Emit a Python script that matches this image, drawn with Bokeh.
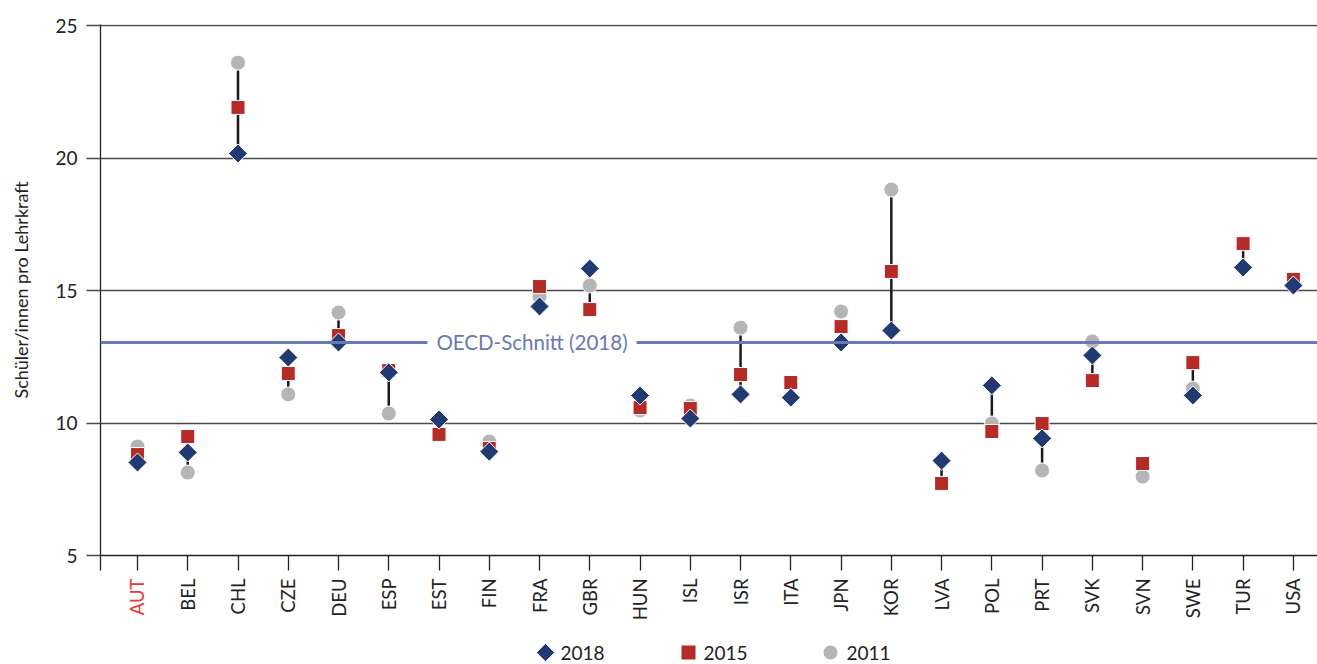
import numpy as np
from bokeh.plotting import figure
from bokeh.layouts import column
from bokeh.models import Range1d, FixedTicker, Label, Span, ColumnDataSource
from bokeh.core.properties import value
from bokeh.embed import file_html
from bokeh.resources import INLINE

countries = ["AUT", "BEL", "CHL", "CZE", "DEU", "ESP", "EST", "FIN", "FRA", "GBR",
             "HUN", "ISL", "ISR", "ITA", "JPN", "KOR", "LVA", "POL", "PRT", "SVK",
             "SVN", "SWE", "TUR", "USA"]
nan = float("nan")
v2018 = [8.51, 8.89, 20.17, 12.47, 13.04, 11.91, 10.13, 8.92, 14.40, 15.83,
         11.04, 10.17, 11.08, 10.96, 13.04, 13.49, 8.58, 11.42, 9.42, 12.55,
         nan, 11.04, 15.87, 15.19]
v2015 = [8.81, 9.49, 21.91, 11.87, 13.30, 11.98, 9.57, 9.04, 15.15, 14.28,
         10.58, 10.55, 11.83, 11.53, 13.64, 15.72, 7.72, 9.68, 9.98, 11.60,
         8.47, 12.28, 16.77, 15.42]
v2011 = [9.11, 8.13, 23.60, 11.08, 14.17, 10.36, nan, 9.30, 14.77, 15.19,
         10.47, 10.66, 13.60, nan, 14.21, 18.81, nan, 9.98, 8.21, 13.08,
         7.98, 11.30, nan, nan]
oecd_2018 = 13.04
y_ticks = [5, 10, 15, 20, 25]
series_labels = ["2018", "2015", "2011"]
highlight = "AUT"

FONT = "Lato"
NAVY = "#213a72"
RED = "#b52b27"
GREY = "#b5b5b5"
OECD_COL = "#6b78b6"
TXT = "#222222"
HL_COL = "#e8392f"

idx = list(range(len(countries)))
arr = np.array([v2018, v2015, v2011], dtype=float)
lo = np.nanmin(arr, axis=0)
hi = np.nanmax(arr, axis=0)

x_start, x_end = -0.736, 23.48
W = 1317

p = figure(width=W, height=573, output_backend="svg", toolbar_location=None,
           x_range=Range1d(x_start, x_end), y_range=Range1d(5, 25.04),
           min_border_left=100, min_border_right=0, min_border_top=24,
           min_border_bottom=18)
p.outline_line_color = None

# grid
p.xgrid.grid_line_color = None
p.ygrid.grid_line_color = "#4a4a4a"
p.ygrid.grid_line_width = 1.3
p.ygrid.ticker = FixedTicker(ticks=y_ticks)

# y axis
p.yaxis.ticker = FixedTicker(ticks=y_ticks)
p.yaxis.major_tick_out = 14
p.yaxis.major_tick_in = 0
p.yaxis.minor_tick_out = 0
p.yaxis.minor_tick_in = 0
p.yaxis.major_tick_line_color = "#4a4a4a"
p.yaxis.major_tick_line_width = 1.3
p.yaxis.axis_line_color = TXT
p.yaxis.axis_line_width = 1.3
p.yaxis.major_label_text_font = FONT
p.yaxis.major_label_text_font_size = "19px"
p.yaxis.major_label_text_color = TXT
p.yaxis.major_label_standoff = 9
p.yaxis.axis_label = "Schüler/innen pro Lehrkraft"
p.yaxis.axis_label_text_font = FONT
p.yaxis.axis_label_text_font_size = "18px"
p.yaxis.axis_label_text_font_style = "normal"
p.yaxis.axis_label_text_color = TXT
p.yaxis.axis_label_standoff = 20

# x axis: tick marks only (labels drawn below with per-label colour)
p.xaxis.ticker = FixedTicker(ticks=[x_start] + idx)
p.xaxis.major_label_overrides = {t: "" for t in [x_start] + idx}
p.xaxis.major_label_text_font_size = "0px"
p.xaxis.major_label_standoff = 0
p.xaxis.major_tick_out = 15
p.xaxis.major_tick_in = 0
p.xaxis.minor_tick_out = 0
p.xaxis.minor_tick_in = 0
p.xaxis.major_tick_line_color = TXT
p.xaxis.major_tick_line_width = 1.3
p.xaxis.axis_line_color = TXT
p.xaxis.axis_line_width = 1.3

# OECD line and label
p.add_layout(Span(location=oecd_2018, dimension="width", line_color=OECD_COL,
                  line_width=3))
p.add_layout(Label(x=7.85, y=oecd_2018, text="OECD-Schnitt (2018)",
                   text_align="center", text_baseline="middle",
                   text_font=FONT, text_font_size="20.5px", text_color=OECD_COL,
                   background_fill_color="white", padding=9))

src = ColumnDataSource(dict(x=idx, lo=lo, hi=hi, v2018=v2018, v2015=v2015,
                            v2011=v2011))
p.segment(x0="x", y0="lo", x1="x", y1="hi", source=src, line_color="#1a1a1a",
          line_width=2.5)
p.scatter("x", "v2011", source=src, marker="circle", size=15,
          fill_color=GREY, line_color="white", line_width=1)
p.scatter("x", "v2015", source=src, marker="square", size=14,
          fill_color=RED, line_color="white", line_width=1)
p.scatter("x", "v2018", source=src, marker="square", angle=np.pi / 4,
          size=13.5, fill_color=NAVY, line_color="white", line_width=1)

# lower strip: category labels + legend
H2 = 91
p2 = figure(width=W, height=H2, output_backend="svg", toolbar_location=None,
            x_range=p.x_range, y_range=Range1d(0, H2),
            x_axis_location=None, y_axis_location=None,
            min_border_left=100, min_border_right=0, min_border_top=0,
            min_border_bottom=0)
p2.outline_line_color = None
p2.grid.visible = False
p2.extra_x_ranges = {"px": Range1d(0, W - 100)}

lab_src = ColumnDataSource(dict(
    x=idx, y=[H2 - 5] * len(countries), text=countries,
    color=[HL_COL if c == highlight else TXT for c in countries]))
p2.text(x="x", y="y", text="text", source=lab_src, angle=np.pi / 2,
        text_align="right", text_baseline="middle", text_color="color",
        text_font=value(FONT), text_font_size="18.5px")

leg_src = ColumnDataSource(dict(
    mx=[445, 588, 730], tx=[460, 603, 746], y=[12, 12, 12],
    text=series_labels, marker=["square", "square", "circle"],
    angle=[np.pi / 4, 0, 0], size=[13, 15, 15], color=[NAVY, RED, GREY]))
p2.scatter(x="mx", y="y", source=leg_src, marker="marker", angle="angle",
           size="size", fill_color="color", line_color="white", line_width=1,
           x_range_name="px")
p2.text(x="tx", y="y", text="text", source=leg_src, text_align="left",
        text_baseline="middle", text_color=TXT, text_font=value(FONT),
        text_font_size="19px", x_range_name="px")

layout = column(p, p2, spacing=0)
open("out.html", "w").write(file_html(layout, INLINE))
